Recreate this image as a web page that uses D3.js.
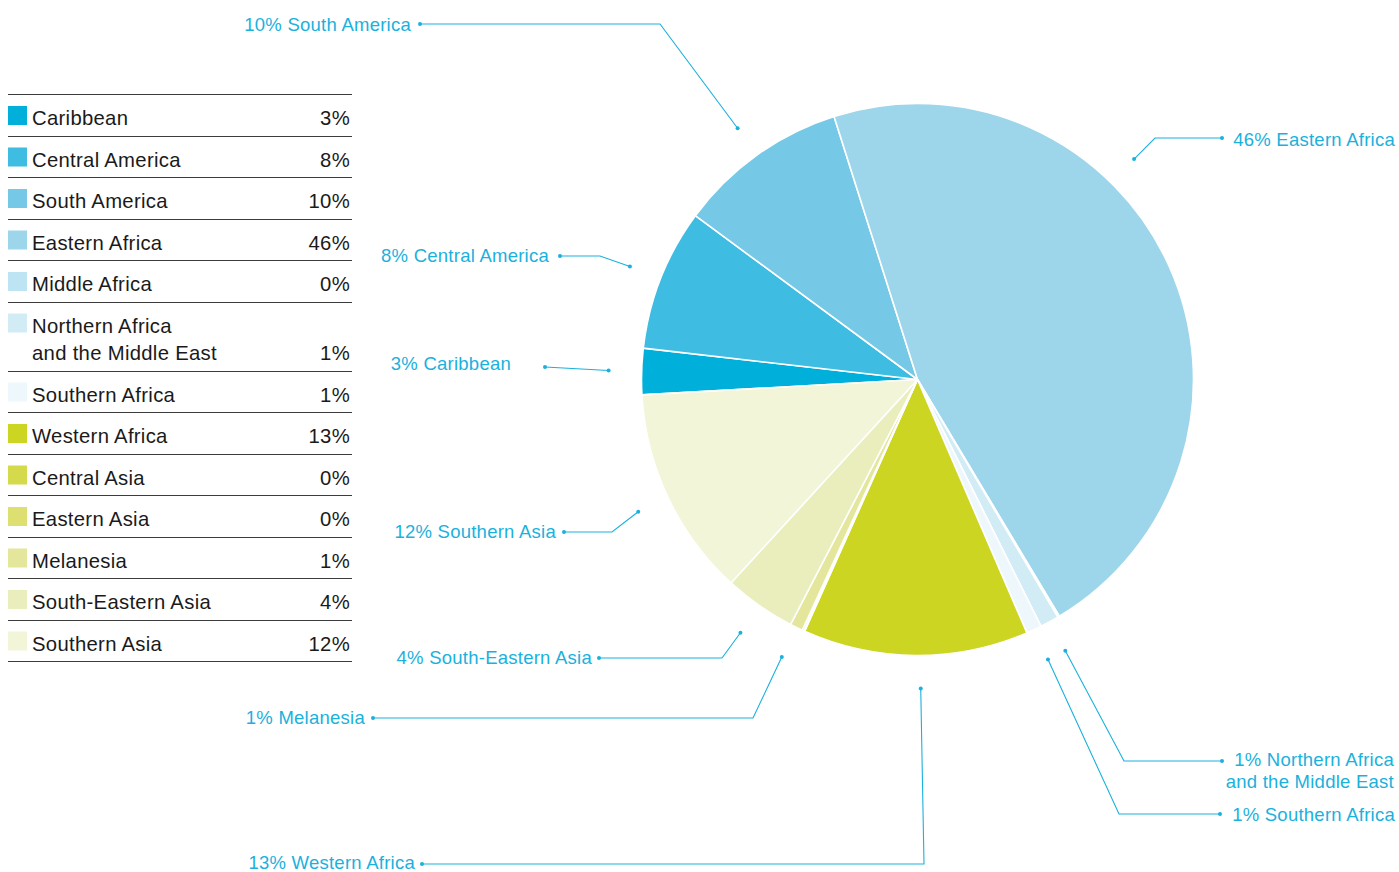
<!DOCTYPE html>
<html>
<head>
<meta charset="utf-8">
<script src="https://cdn.jsdelivr.net/npm/d3@7"></script>
<style>
  html, body { margin: 0; padding: 0; background: #fff; }
  svg { display: block; font-family: "Liberation Sans", Arial, Helvetica, sans-serif; }
</style>
</head>
<body>
<svg id="chart" width="1399" height="872"></svg>
<script>
// Regions and their shares (percent)
const regions = [
  "Caribbean", "Central America", "South America", "Eastern Africa",
  "Middle Africa", "Northern Africa\nand the Middle East", "Southern Africa",
  "Western Africa", "Central Asia", "Eastern Asia", "Melanesia",
  "South-Eastern Asia", "Southern Asia"
];
const shares = [2.7, 8.3, 10.0, 46.3, 0.1, 1.1, 0.9, 13.2, 0.05, 0.1, 0.75, 4.2, 12.3];
const colors = [
  "#00b0db", "#3fbce2", "#75c8e6", "#9dd6eb", "#bce4f3", "#d2ecf6", "#eef7fc",
  "#ccd622", "#d4da4b", "#dde070", "#e4e79b", "#eaeebc", "#f2f5d8"
];
// Regions that get a callout label next to the pie
const labelled = [
  "South America", "Eastern Africa", "Central America", "Caribbean",
  "Southern Asia", "South-Eastern Asia", "Melanesia", "Western Africa",
  "Northern Africa\nand the Middle East", "Southern Africa"
];

const data = regions.map((name, i) => ({ name, value: shares[i], color: colors[i] }));
const fmt = v => Math.round(v) + "%";

const svg = d3.select("#chart");
const cx = 917.5, cy = 379.5, radius = 276;
const deg = Math.PI / 180;

// ---- Pie ----
const pie = d3.pie().sort(null).value(d => d.value)
  .startAngle(-93.2 * deg).endAngle(266.8 * deg);
const arcs = pie(data);
const arc = d3.arc().innerRadius(0).outerRadius(radius);

const g = svg.append("g").attr("transform", `translate(${cx},${cy})`);
g.selectAll("path").data(arcs).join("path")
  .attr("d", arc)
  .attr("fill", d => d.data.color)
  .attr("stroke", "#fff")
  .attr("stroke-width", 1.6)
  .attr("stroke-linejoin", "round");

// ---- Callouts ----
// Leader line: anchor on a ring outside the pie -> elbow -> label dot
const callout = {
  "South America":      { elbow: [660, 24],  dot: [420, 24],  tx: 411,  ty: 24 },
  "Eastern Africa":     { elbow: [1155, 138], dot: [1222, 138], tx: 1395, ty: 139, angle: 44.5 },
  "Central America":    { elbow: [600, 256], dot: [560, 256], tx: 549,  ty: 255 },
  "Caribbean":          { elbow: null,       dot: [545, 367], tx: 511,  ty: 363 },
  "Southern Asia":      { elbow: [612, 532], dot: [564, 532], tx: 556,  ty: 531 },
  "South-Eastern Asia": { elbow: [722, 658], dot: [599, 658], tx: 592,  ty: 657 },
  "Melanesia":          { elbow: [753, 718], dot: [373, 718], tx: 365,  ty: 717 },
  "Western Africa":     { elbow: [924, 864], dot: [422, 864], tx: 415,  ty: 862, angle: 179.4 },
  "Northern Africa\nand the Middle East": { elbow: [1124, 761], dot: [1222, 761], tx: 1394, ty: 759 },
  "Southern Africa":    { elbow: [1119, 814], dot: [1220, 814], tx: 1395, ty: 814 }
};
const ringR = 309;
const accent = "#1ab1dd";
const cg = svg.append("g");

arcs.filter(a => labelled.includes(a.data.name)).forEach(a => {
  const c = callout[a.data.name];
  const ang = c.angle !== undefined ? c.angle * deg : (a.startAngle + a.endAngle) / 2;
  const ax = cx + ringR * Math.sin(ang), ay = cy - ringR * Math.cos(ang);
  const pts = [[ax, ay]];
  if (c.elbow) pts.push(c.elbow);
  pts.push(c.dot);
  cg.append("path")
    .attr("d", d3.line()(pts))
    .attr("fill", "none")
    .attr("stroke", accent)
    .attr("stroke-width", 1.1);
  cg.append("circle").attr("cx", ax).attr("cy", ay).attr("r", 2).attr("fill", accent);
  cg.append("circle").attr("cx", c.dot[0]).attr("cy", c.dot[1]).attr("r", 2).attr("fill", accent);

  const lines = a.data.name.split("\n");
  const t = cg.append("text")
    .attr("x", c.tx).attr("y", c.ty + 6.5)
    .attr("text-anchor", "end")
    .attr("font-size", 18.5)
    .attr("letter-spacing", 0.25)
    .attr("fill", accent);
  lines.forEach((ln, i) => {
    t.append("tspan")
      .attr("x", c.tx)
      .attr("dy", i === 0 ? 0 : 22)
      .text(i === 0 ? fmt(a.data.value) + " " + ln : ln);
  });
});

// ---- Legend table ----
const lg = svg.append("g");
const lx0 = 8, lx1 = 352, rowH = 41.5, lineGap = 27.5;
let y = 94;
lg.append("line").attr("x1", lx0).attr("x2", lx1).attr("y1", y + 0.5).attr("y2", y + 0.5)
  .attr("stroke", "#3c3c3c").attr("stroke-width", 1);
data.forEach(d => {
  const lines = d.name.split("\n");
  const h = rowH + (lines.length - 1) * lineGap;
  lg.append("rect").attr("x", lx0).attr("y", y + 12).attr("width", 19).attr("height", 19)
    .attr("fill", d.color);
  lines.forEach((ln, i) => {
    lg.append("text").attr("x", 32).attr("y", y + 31 + i * lineGap)
      .attr("font-size", 20.3).attr("letter-spacing", 0.3)
      .attr("fill", "#1a1a1a").text(ln);
  });
  lg.append("text").attr("x", 350).attr("y", y + 31 + (lines.length - 1) * lineGap)
    .attr("text-anchor", "end").attr("font-size", 20.3).attr("letter-spacing", 0.3)
    .attr("fill", "#1a1a1a")
    .text(fmt(d.value));
  y += h;
  lg.append("line").attr("x1", lx0).attr("x2", lx1)
    .attr("y1", Math.round(y) + 0.5).attr("y2", Math.round(y) + 0.5)
    .attr("stroke", "#3c3c3c").attr("stroke-width", 1);
});
</script>
</body>
</html>
